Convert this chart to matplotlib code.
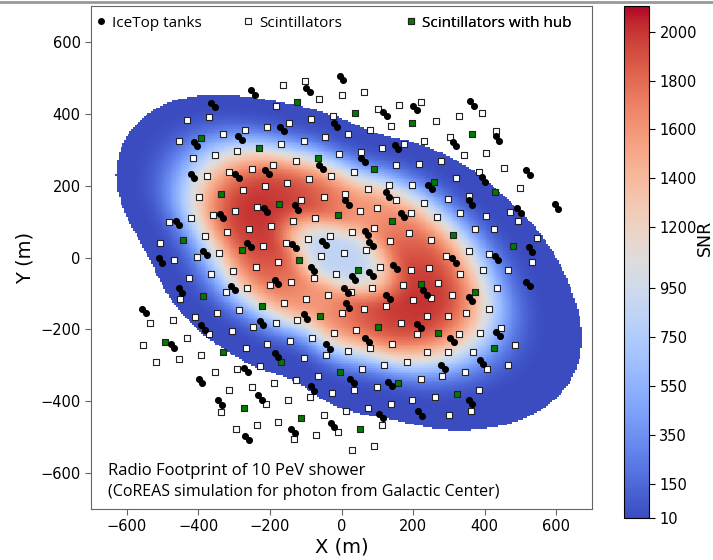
import numpy as np
import matplotlib.pyplot as plt
from matplotlib.colors import Normalize
from matplotlib.lines import Line2D

# IceTop stations (centre of each tank pair), metres
tank_x = [-247, -359, -284, -408, -416, -292, -208, -458, -335, -212, -259, -382, -506,
          0, -93, 121, 205, -17, -166, 154, 60, -58, 128, -126, 16, 170, 70, 82, -49, -133,
          365, 316, 436, 521, 397, 247, 601, 496, 361, 528, 433, 314,
          -450, -303, -182, -552, -387, -223, -472, -182, -267, -394, -228, -340, -264,
          -81, 34, 82, 149, 12, 17, 130, -101, 216, 72, -37, 30, 135, -81, 219, 110, -25, -135,
          521, 233, 360, 437, 309, 391, 284, 361]
tank_y = [459, 425, 333, 315, 226, 226, 238, 96, 115, 133, 34, 12, -8,
          499, 466, 399, 417, 369, 357, 308, 271, 252, 175, 139, 153, 119, 69, 38, 41, 32,
          429, 316, 331, 237, 217, 196, 142, 131, 153, 22, -2, -8,
          -92, -85, -69, -148, -195, -183, -247, -271, -314, -344, -390, -404, -502,
          -32, -57, -46, -27, -92, -134, -109, -164, -190, -229, -248, -344, -353, -365, -434, -441, -466, -483,
          -73, -97, -115, -213, -229, -291, -304, -402]

# scintillator panels
scint_x = [-184, -371, -433, -208, -270, -331, -454, -292, -354, -416, -251, -191, -315, -377, -275, -214,
           -399, -237, -298, -359, -421, -482, -196, -258, -320, -381, -506, -219, -342, -405, -468, -177,
           -163, -101, -63, 0, 62, 161, 223, 101, -23, 137, -146, -84, 79, 17, -45, -105, -168, 174, 231,
           112, 54, -7, -128, 217, 152, 34, -28, -91, -151, 196, 132, 73, 11, -49, -112, 151, 231, 98, 51,
           -73, -135, 194, 90, 28, -33, -95, -156, 188, 135, 68, 6, -56,
           263, 328, 393, 431, 304, 342, 405, 453, 279, 383, 319, 498, 356, 298, 472, 492, 403, 330, 268,
           427, 374, 545, 249, 356, 412, 293, 531,
           -365, -427, -303, -240, -200, -264, -324, -450, -286, -347, -410, -470, -534, -184, -247, -307,
           -370, -431, -556, -207, -268, -393, -454, -517, -228, -292, -353, -189, -251, -314, -212, -337,
           -177, -235, -296,
           -77, -140, -16, 108, 194, 172, 85, 26, -37, -100, -161, 200, 124, 62, 2, -123, 165, 211, 40, -21,
           -82, -144, 141, 79, 19, -44, -104, 182, 119, 58, -67, -128, 221, 98, 35, -26, -89, -149, 198,
           137, 74, 12, -49, 113, -9, -72, -133, 91, 30,
           244, 332, 396, 464, 270, 435, 310, 249, 411, 349, 298, 239, 445, 386, 328, 484, 368, 299, 239,
           464, 407, 344, 282, 384, 261, 361, 300]
scint_y = [423, 392, 383, 364, 355, 345, 324, 296, 285, 276, 247, 257, 237, 227, 189, 198,
           168, 141, 129, 119, 111, 99, 89, 80, 71, 60, 41, 31, 12, 1, -8, -13,
           480, 490, 441, 451, 460, 425, 432, 413, 394, 367, 373, 385, 355, 345, 336, 325, 316, 316, 324,
           304, 294, 287, 268, 260, 258, 237, 227, 218, 208, 201, 201, 192, 178, 168, 159, 159, 152, 139, 129,
           111, 101, 124, 82, 71, 61, 52, 41, 68, 46, 22, 12, 3,
           381, 395, 401, 352, 336, 284, 292, 249, 269, 238, 220, 194, 170, 162, 127, 101, 115, 125, 113,
           80, 78, 54, 49, 18, 10, 4, -13,
           -47, -57, -38, -27, -76, -86, -97, -115, -145, -155, -165, -174, -183, -183, -193, -204,
           -213, -224, -243, -241, -252, -272, -283, -292, -302, -311, -320, -350, -360, -370, -409, -429,
           -458, -467, -477,
           -57, -67, -47, -27, -34, -76, -86, -97, -104, -115, -127, -118, -134, -143, -154, -174, -183, -213, -202, -211,
           -223, -232, -241, -252, -260, -271, -281, -290, -300, -309, -330, -341, -339, -360, -369, -378, -388, -398, -398,
           -409, -418, -427, -437, -466, -486, -495, -505, -525, -536,
           -29, -46, -36, -36, -72, -85, -104, -114, -144, -155, -162, -162, -197, -209, -213, -243, -264, -263, -263,
           -299, -311, -320, -330, -369, -388, -427, -439]

# scintillators with hub
hub_x = [-393, -230, -338, -175, -444, -279, -124, 39, 198, -67, 92, -11, 141, -118,
         366, 258, 428, 312, 479, -387, -223, -494, -331, -273,
         46, 221, -61, 102, -168, -4, 158, -112, 53, 372, 270, 425, 323]
hub_y = [333, 305, 178, 150, 50, 22, 432, 403, 375, 276, 247, 119, 101, -8,
         344, 210, 182, 64, 33, -106, -134, -234, -262, -418,
         -36, -74, -164, -193, -291, -320, -350, -446, -477, -95, -211, -253, -379]

# footprint edge: angle (deg) around edge_center -> radius (m)
edge_center = (20, -20)
edge_angle = [0, 22, 48, 76, 93, 115, 123, 132, 144, 158, 162, 172, 179, 202, 215, 244, 287, 306, 324, 339, 344]
edge_radius = [590, 476, 406, 366, 403, 495, 561, 635, 719, 713, 695, 588, 551, 464, 415, 348, 445, 569, 687, 709, 680]

# Cherenkov ring
ring_center = (-5, 0)
ring_pos = 0.36
snr_middle = 850
snr_ring_major = 2000
snr_ring_minor = 1600
snr_min, snr_max = 10, 2105
snr_ticks = [10, 150, 350, 550, 750, 950, 1200, 1400, 1600, 1800, 2000]

# closed edge: periodic interpolation of the read radii, smoothed over +-8 deg
deg = np.arange(360)
r_deg = np.interp(deg, edge_angle + [360], edge_radius + [edge_radius[0]])
win = np.ones(17) / 17
r_deg = np.convolve(np.r_[r_deg[-8:], r_deg, r_deg[:8]], win, mode='valid')

gx = np.arange(-700, 701, 5)
X, Y = np.meshgrid(gx, gx)


def edge_rho(cx, cy):
    ang = np.degrees(np.arctan2(Y - cy, X - cx)) % 360
    r = np.interp(ang, np.r_[deg, 360], np.r_[r_deg, r_deg[0]])
    return np.hypot(X - cx, Y - cy) / r, ang


rho_b, _ = edge_rho(*edge_center)
rho, ang = edge_rho(*ring_center)
peak = 0.5 * (snr_ring_major + snr_ring_minor) + 0.5 * (snr_ring_major - snr_ring_minor) * np.cos(np.radians(2 * (ang - 150)))
inner = snr_middle + (peak - snr_middle) * np.exp(-(np.abs(rho - ring_pos) / 0.18) ** 3)
outer = peak * np.exp(-(np.abs(rho - ring_pos) / 0.313) ** 3)
snr = np.where(rho < ring_pos, inner, outer)
snr = np.ma.masked_where(rho_b > 1, snr)

fig = plt.figure(figsize=(7.13, 5.6), dpi=100)
ax = fig.add_axes([91 / 713, 51 / 560, 501 / 713, 503 / 560])
cax = fig.add_axes([624 / 713, 42 / 560, 25 / 713, 512 / 560])

im = ax.imshow(snr, origin='lower', extent=(-702.5, 702.5, -702.5, 702.5), cmap='coolwarm',
               norm=Normalize(snr_min, snr_max), interpolation='nearest', zorder=1)

tx = np.array(tank_x)
ty = np.array(tank_y)
ax.scatter(scint_x, scint_y, marker='s', s=22, facecolor='white', edgecolor='#222222', linewidth=0.8, zorder=3)
ax.scatter(hub_x, hub_y, marker='s', s=22, facecolor='#007a00', edgecolor='#222222', linewidth=0.8, zorder=3)
ax.scatter(np.r_[tx - 5, tx + 5], np.r_[ty + 6, ty - 6], marker='o', s=26, color='black', linewidth=0, zorder=4)

ax.set_xlim(-700, 700)
ax.set_ylim(-700, 700)
ax.set_aspect('auto')
ax.set_xticks(range(-600, 601, 200))
ax.set_yticks(range(-600, 601, 200))
ax.tick_params(labelsize=10.5, color='#666666', length=4)
for s in ax.spines.values():
    s.set_color('#666666')
ax.set_xlabel('X (m)', fontsize=14, labelpad=2)
ax.set_ylabel('Y (m)', fontsize=14, labelpad=4)

# legend, three separate entries across the top
lfont = {'family': 'Open Sans', 'size': 11}
entries = [
    (Line2D([], [], ls='', marker='o', ms=4, color='black'), 'IceTop tanks', 0.008),
    (Line2D([], [], ls='', marker='s', ms=4.5, mfc='white', mec='#222222', mew=0.8), 'Scintillators', 0.301),
    (Line2D([], [], ls='', marker='s', ms=4.5, mfc='#007a00', mec='#222222', mew=0.8), 'Scintillators with hub', 0.627),
]
for h, lab, xpos in entries:
    leg = ax.legend([h], [lab], loc='center left', bbox_to_anchor=(xpos, 0.966), frameon=False,
                    prop=lfont, borderpad=0, borderaxespad=0, handlelength=0.8, handletextpad=0.32)
    ax.add_artist(leg)

ax.text(0.034, 0.0765, 'Radio Footprint of 10 PeV shower', transform=ax.transAxes,
        fontfamily='Open Sans', fontsize=12, va='center', ha='left')
ax.text(0.034, 0.034, '(CoREAS simulation for photon from Galactic Center)', transform=ax.transAxes,
        fontfamily='Open Sans', fontsize=11.5, va='center', ha='left')

cb = fig.colorbar(im, cax=cax, ticks=snr_ticks)
cb.ax.tick_params(labelsize=10.5, length=4)
cb.outline.set_linewidth(0.8)
fig.text(705 / 713, 1 - 238 / 560, 'SNR', rotation=90, fontsize=12.5, ha='center', va='center')

fig.add_artist(Line2D([0, 1], [1 - 1.5 / 560, 1 - 1.5 / 560], transform=fig.transFigure, color='#999999', lw=2))

fig.savefig('out.png', dpi=100)
